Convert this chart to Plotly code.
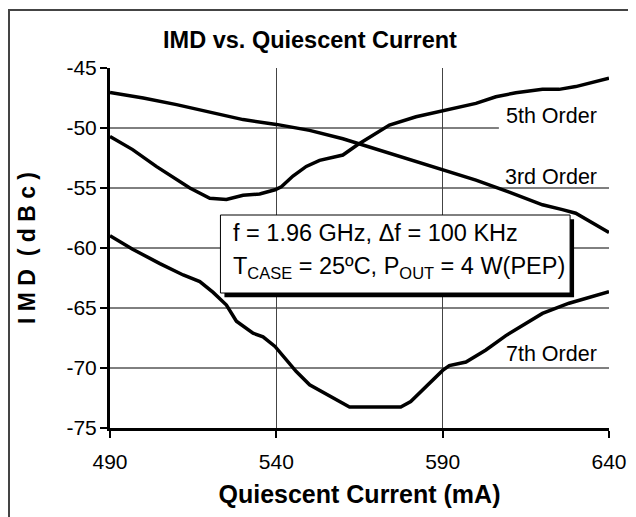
import plotly.graph_objects as go

# ---- data ----
x_3rd = [490, 500, 510, 520, 530, 540, 550, 560, 570, 580, 590, 600, 610, 620, 626, 630, 640]
y_3rd = [-47.05, -47.5, -48.05, -48.65, -49.3, -49.7, -50.2, -50.9, -51.75, -52.6, -53.5,
         -54.35, -55.35, -56.4, -56.8, -57.1, -58.7]

x_5th = [490, 496.8, 503.9, 514, 520, 525, 530, 535, 539.6, 541.5, 545, 549, 553, 560,
         564.4, 574, 582, 590, 600, 606, 612, 620, 625, 630, 640]
y_5th = [-50.7, -51.8, -53.2, -55.0, -55.85, -55.95, -55.6, -55.5, -55.15, -54.9, -54.0,
         -53.2, -52.7, -52.25, -51.4, -49.75, -49.06, -48.55, -47.95, -47.4, -47.06,
         -46.78, -46.78, -46.55, -45.86]

x_7th = [490, 496.8, 505, 512, 517, 521, 525, 528, 533, 536, 539.6, 546, 550, 557, 562,
         577.4, 580.4, 590, 592, 597, 603, 609, 620, 628, 640]
y_7th = [-58.97, -60.1, -61.3, -62.25, -62.8, -63.7, -64.75, -66.1, -67.1, -67.4, -68.2,
         -70.3, -71.4, -72.5, -73.25, -73.25, -72.8, -70.2, -69.8, -69.5, -68.5, -67.3,
         -65.45, -64.6, -63.64]

series_names = ["3rd Order", "5th Order", "7th Order"]
x_ticks = [490, 540, 590, 640]
x_tick_text = ["490", "540", "590", "640"]
y_ticks = [-45, -50, -55, -60, -65, -70, -75]
y_tick_text = ["-45", "-50", "-55", "-60", "-65", "-70", "-75"]
y_grid = [-50, -55, -60, -65, -70]

FONT = "Liberation Sans, Arial, sans-serif"

fig = go.Figure()
for name, xs, ys in zip(series_names, [x_3rd, x_5th, x_7th], [y_3rd, y_5th, y_7th]):
    fig.add_trace(go.Scatter(x=xs, y=ys, mode="lines", name=name,
                             line=dict(color="black", width=3.5), showlegend=False))

shapes = []
# horizontal grid lines
for gy in y_grid:
    shapes.append(dict(type="line", xref="x", yref="y", x0=490, x1=640, y0=gy, y1=gy,
                       line=dict(color="black", width=1), layer="below"))
# outer frame
shapes.append(dict(type="rect", xref="paper", yref="paper", x0=-0.2024, x1=1.08,
                   y0=-0.3, y1=1.161, line=dict(color="#444", width=2), layer="below"))
# white patch behind "5th Order"
shapes.append(dict(type="rect", xref="x", yref="y", x0=606.9, x1=640.8, y0=-47.6, y1=-51.0,
                   fillcolor="white", line=dict(width=0), layer="above"))
# text box shadow + box
shapes.append(dict(type="rect", xref="x", yref="y", x0=524.4, x1=629.5, y0=-57.6, y1=-64.1,
                   fillcolor="black", line=dict(width=0), layer="above"))
shapes.append(dict(type="rect", xref="x", yref="y", x0=523.2, x1=628.3, y0=-57.25, y1=-63.75,
                   fillcolor="white", line=dict(color="black", width=1), layer="above"))

ann_font = dict(family=FONT, size=21.5, color="black")
box_font = dict(family=FONT, size=23.5, color="black")
annotations = [
    dict(x=640, y=-48.96, xref="x", yref="y", text="5th Order", showarrow=False,
         xanchor="right", yanchor="middle", xshift=-10, font=ann_font),
    dict(x=640, y=-54.08, xref="x", yref="y", text="3rd Order", showarrow=False,
         xanchor="right", yanchor="middle", xshift=-10, font=ann_font),
    dict(x=640, y=-68.83, xref="x", yref="y", text="7th Order", showarrow=False,
         xanchor="right", yanchor="middle", xshift=-10, font=ann_font),
    dict(x=526.3, y=-58.75, xref="x", yref="y", text="f = 1.96 GHz, Δf = 100 KHz",
         showarrow=False, xanchor="left", yanchor="middle", font=box_font),
    dict(x=526.3, y=-61.65, xref="x", yref="y",
         text="T<sub>CASE</sub> = 25ºC, P<sub>OUT</sub> = 4 W(PEP)",
         showarrow=False, xanchor="left", yanchor="middle", font=box_font),
]

fig.update_layout(
    width=636, height=517,
    margin=dict(l=102, r=35, t=60, b=97),
    paper_bgcolor="white", plot_bgcolor="white",
    title=dict(text="<b>IMD vs. Quiescent Current</b>", x=302 / 636, xref="container",
               xanchor="center", y=1 - 32 / 517, yref="container", yanchor="middle",
               font=dict(family=FONT, size=23.5, color="black")),
    shapes=shapes, annotations=annotations,
    xaxis=dict(range=[490, 640], tickvals=x_ticks, ticktext=x_tick_text, ticks="outside",
               ticklen=7, tickwidth=2, automargin=False,
               tickcolor="black", showline=True, linewidth=3, linecolor="black",
               showgrid=True, gridcolor="#444", gridwidth=1, zeroline=False,
               tickfont=dict(family=FONT, size=21, color="black"), ticklabelstandoff=6,
               title=dict(text="<b>Quiescent Current (mA)</b>", standoff=14,
                          font=dict(family=FONT, size=25, color="black"))),
    yaxis=dict(range=[-75, -45], tickvals=y_ticks, ticktext=y_tick_text, ticks="outside",
               ticklen=7, tickwidth=2, automargin=False,
               tickcolor="black", showline=True, linewidth=3, linecolor="black",
               showgrid=False, zeroline=False,
               tickfont=dict(family=FONT, size=21, color="black"), ticklabelstandoff=-1,
               title=dict(text="<b>I M D  ( d B c )</b>", standoff=25,
                          font=dict(family=FONT, size=23, color="black"))),
)

fig.write_html("out.html")
